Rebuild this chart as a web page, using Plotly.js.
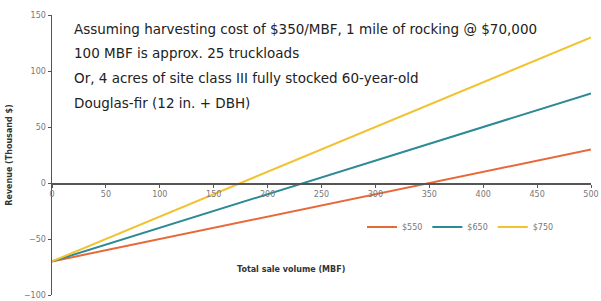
<!DOCTYPE html>
<html>
<head>
<meta charset="utf-8">
<script src="https://cdn.plot.ly/plotly-3.0.1.min.js"></script>
<style>html,body{margin:0;padding:0;background:#fff;}#chart{width:601px;height:301px;}</style>
</head>
<body>
<div id="chart"></div>
<script>
const volume = [0, 100, 200, 300, 400, 500];
const rev550 = [-70, -50, -30, -10, 10, 30];
const rev650 = [-70, -40, -10, 20, 50, 80];
const rev750 = [-70, -30, 10, 50, 90, 130];
const seriesNames = ['$550', '$650', '$750'];
const xTicks = [0, 50, 100, 150, 200, 250, 300, 350, 400, 450, 500];
const yTicks = [-100, -50, 0, 50, 100, 150];
const noteLines = [
  'Assuming harvesting cost of $350/MBF, 1 mile of rocking @ $70,000',
  '100 MBF is approx. 25 truckloads',
  'Or, 4 acres of site class III fully stocked 60-year-old',
  'Douglas-fir (12 in. + DBH)'
];
const colors = ['#E8683A', '#2B8A94', '#F2C230'];
const ys = [rev550, rev650, rev750];

const traces = ys.map((y, i) => ({
  x: volume, y: y, type: 'scatter', mode: 'lines', name: seriesNames[i],
  line: {color: colors[i], width: 2}
}));

const annotations = noteLines.map((t, i) => ({
  xref: 'paper', yref: 'paper', x: (72-52)/539, y: 1 - (14 + i*24.5)/280,
  xanchor: 'left', yanchor: 'middle', text: t, showarrow: false,
  font: {family: 'DejaVu Sans, Verdana, sans-serif', size: 13.5, color: '#222'}
}));
annotations.push({
  xref: 'paper', yref: 'paper', x: (291-52)/539, y: (295-269)/280,
  xanchor: 'center', yanchor: 'middle', text: '<b>Total sale volume (MBF)</b>', showarrow: false,
  font: {family: 'DejaVu Sans, Verdana, sans-serif', size: 8, color: '#333'}
});

const layout = {
  width: 601, height: 301,
  margin: {l: 52, r: 10, t: 15, b: 6},
  paper_bgcolor: '#fff', plot_bgcolor: '#fff',
  showlegend: true,
  legend: {orientation: 'h', x: (362-52)/539, y: (295-227)/280, xanchor: 'left', yanchor: 'middle',
    font: {family: 'DejaVu Sans, Verdana, sans-serif', size: 8, color: '#777'},
    itemwidth: 30, tracegroupgap: 0, bgcolor: 'rgba(0,0,0,0)'},
  xaxis: {range: [0, 500], tickvals: xTicks, ticks: 'outside', ticklen: 3, tickcolor: '#555',
    showgrid: false, zeroline: false, showline: true, linecolor: '#555', linewidth: 1.5,
    anchor: 'free', position: 0.4,
    tickfont: {family: 'DejaVu Sans, Verdana, sans-serif', size: 8, color: '#777'}},
  yaxis: {range: [-100, 150], tickvals: yTicks, ticks: 'outside', ticklen: 3, tickcolor: '#555',
    showgrid: false, zeroline: false, showline: true, linecolor: '#555', linewidth: 1.5,
    title: {text: '<b>Revenue (Thousand $)</b>', standoff: 10,
      font: {family: 'DejaVu Sans, Verdana, sans-serif', size: 8, color: '#333'}},
    tickfont: {family: 'DejaVu Sans, Verdana, sans-serif', size: 8, color: '#777'}},
  annotations: annotations
};
Plotly.newPlot('chart', traces, layout, {displayModeBar: false, staticPlot: true});
</script>
</body>
</html>
